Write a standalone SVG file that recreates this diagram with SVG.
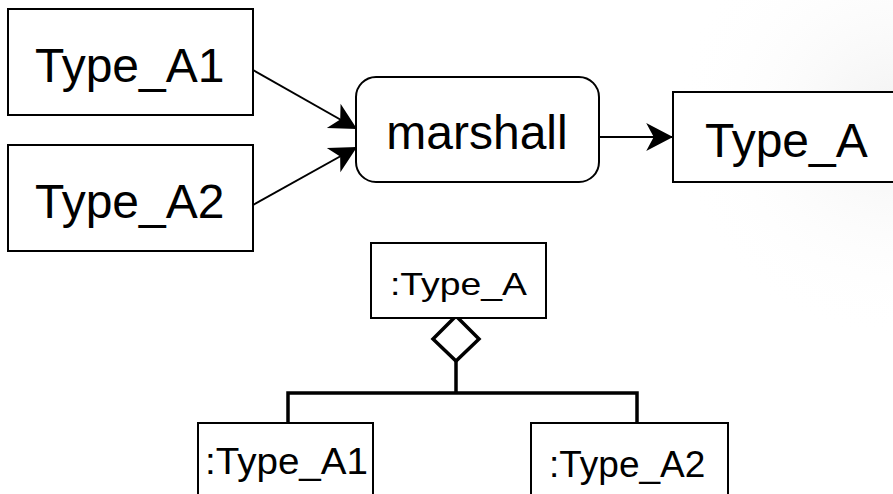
<svg xmlns="http://www.w3.org/2000/svg" width="893" height="494" viewBox="0 0 893 494">
  <style>
    .box { fill: #ffffff; stroke: #000000; stroke-width: 2; }
    .lbl { font-family: "Liberation Sans", Arial, sans-serif; fill: #000000; }
    .big { font-size: 48px; }
    .arrow { fill: none; stroke: #000000; stroke-width: 2; marker-end: url(#head); }
    .tree { fill: none; stroke: #000000; stroke-width: 3.5; stroke-linejoin: miter; }
  </style>
  <defs>
    <marker id="head" markerUnits="userSpaceOnUse" markerWidth="30" markerHeight="30" viewBox="-26 -14 27 28" refX="0" refY="0" orient="auto">
      <path d="M0,0 L-25,-13 L-18,0 L-25,13 Z" fill="#000000"/>
    </marker>
    <radialGradient id="haze" cx="893" cy="120" r="220" gradientUnits="userSpaceOnUse">
      <stop offset="0" stop-color="#f2f2f2"/>
      <stop offset="1" stop-color="#ffffff" stop-opacity="0"/>
    </radialGradient>
  </defs>

  <!-- page -->
  <rect x="0" y="0" width="893" height="494" fill="#ffffff"/>
  <rect x="600" y="0" width="293" height="400" fill="url(#haze)"/>

  <!-- connectors -->
  <g id="connectors">
    <path class="arrow" d="M253,70 L357,129"/>
    <path class="arrow" d="M253,205 L357,147"/>
    <path class="arrow" d="M599,137 L673,137" stroke-width="2.6"/>
    <path class="tree" d="M456,316 L479,339 L456,361 L433,339 Z"/>
    <path class="tree" d="M456,361 L456,393 M288,423 L288,393 L637,393 L637,423"/>
  </g>

  <g id="type_a1">
    <rect class="box" x="8" y="9" width="245" height="106"/>
    <text class="lbl big" x="35" y="82">Type_A1</text>
  </g>
  <g id="type_a2">
    <rect class="box" x="8" y="145" width="245" height="106"/>
    <text class="lbl big" x="35" y="218">Type_A2</text>
  </g>
  <g id="marshall">
    <rect class="box" x="356" y="77" width="243" height="105" rx="20" ry="20"/>
    <text class="lbl big" x="477" y="149" text-anchor="middle">marshall</text>
  </g>
  <g id="type_a">
    <rect class="box" x="673" y="92" width="240" height="90"/>
    <text class="lbl big" x="705" y="157">Type_A</text>
  </g>
  <g id="obj_type_a">
    <rect class="box" x="371" y="243" width="175" height="75"/>
    <text class="lbl" x="390" y="295" font-size="32" textLength="137" lengthAdjust="spacingAndGlyphs">:Type_A</text>
  </g>
  <g id="obj_type_a1">
    <rect class="box" x="198" y="423" width="175" height="80"/>
    <text class="lbl" x="205" y="474" font-size="37" textLength="163" lengthAdjust="spacingAndGlyphs">:Type_A1</text>
  </g>
  <g id="obj_type_a2">
    <rect class="box" x="531" y="423" width="197" height="80"/>
    <text class="lbl" x="549" y="477" font-size="37">:Type_A2</text>
  </g>
</svg>
